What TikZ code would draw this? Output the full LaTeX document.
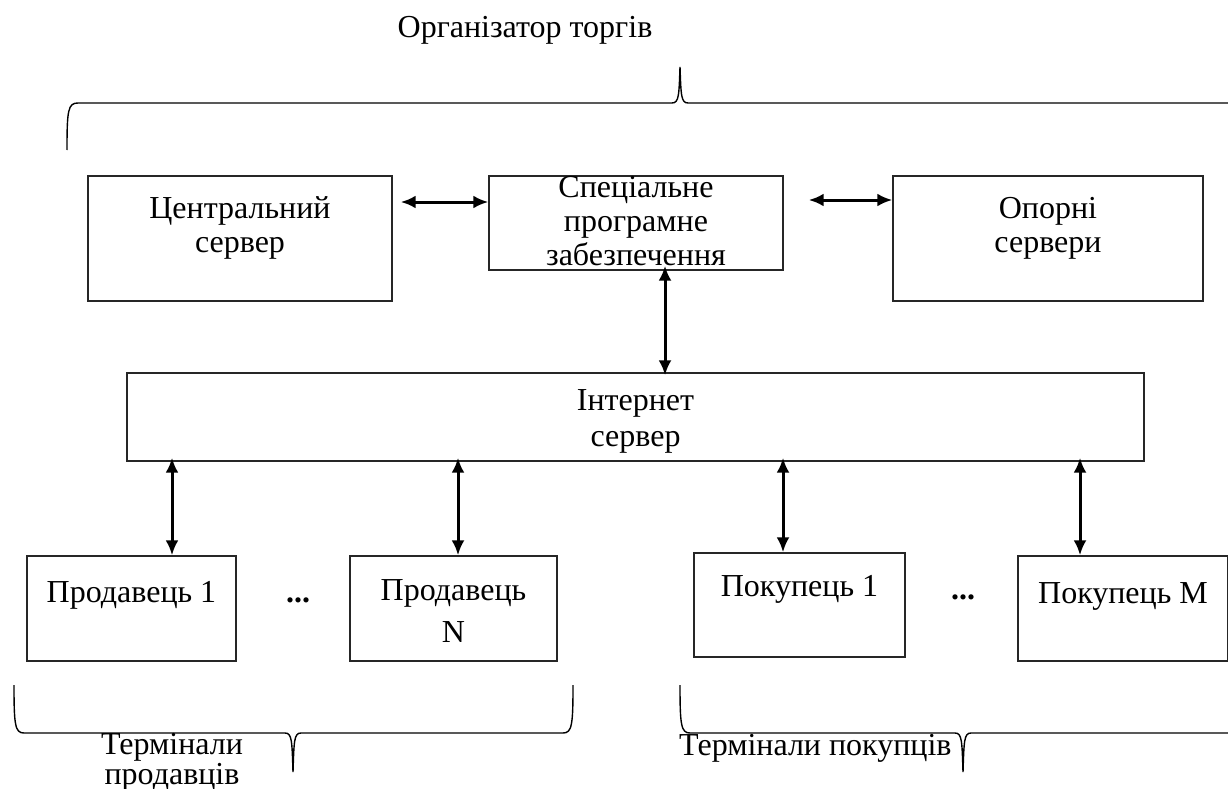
\documentclass[tikz,border=0pt]{standalone}
\usepackage{fontspec}
\setmainfont{Liberation Serif}
\usetikzlibrary{arrows.meta}
\begin{document}
\begin{tikzpicture}[x=1pt,y=-1pt,
  box/.style={draw=black!85,line width=1.4pt,rectangle,inner sep=0pt},
  lbl/.style={font=\fontsize{32}{34}\selectfont,align=center,inner sep=0pt},
  link/.style={line width=3pt,{Latex[length=15pt,width=13pt]}-{Latex[length=15pt,width=13pt]}},
  brace/.style={line width=1.4pt,black}]
\useasboundingbox (0,0) rectangle (1228,789);

% title and top brace
\node[lbl] (org) at (525,30) {Організатор торгів};
\draw[brace] (67,150) .. controls (67,110) and (68,103) .. (78,103) -- (672,103)
  .. controls (679,103) and (679,95) .. (680,67)
  .. controls (681,95) and (681,103) .. (688,103) -- (1230,103);

% upper row of boxes
\node[box,minimum width=304pt,minimum height=125pt] (central) at (240,238.5) {};
\node[lbl] (centralt) at (240,228) {Центральний\\сервер};
\node[box,minimum width=294pt,minimum height=94pt] (spec) at (636,223) {};
\node[lbl] (spect) at (636,221) {Спеціальне\\програмне\\забезпечення};
\node[box,minimum width=310pt,minimum height=125pt] (opor) at (1048,238.5) {};
\node[lbl] (oport) at (1048,228) {Опорні\\сервери};

\draw[link] ([xshift=8pt]central.east|-0,202) -- (spec.west|-0,202);
\draw[link] ([xshift=25pt]spec.east|-0,200) -- (opor.west|-0,200);

% internet server
\node[box,minimum width=1017pt,minimum height=88pt] (inet) at (635.5,417) {};
\node[lbl] (inett) at (635.5,421) {Інтернет\\[2pt]сервер};
\draw[link] ([yshift=5pt]spec.south-|665,0) -- ([yshift=-3pt]inet.north-|665,0);

% terminals
\node[box,minimum width=209pt,minimum height=105pt] (s1) at (131.5,608.5) {};
\node[lbl] (s1t) at (131.5,595) {Продавець 1};
\node[lbl,font=\fontsize{32}{34}\selectfont\bfseries] (dots1) at (298,600) {...};
\node[box,minimum width=207pt,minimum height=105pt] (sn) at (453.5,608.5) {};
\node[lbl] (snt) at (453.5,611) {Продавець\\[8pt]N};
\node[box,minimum width=211pt,minimum height=104pt] (b1) at (799.5,605) {};
\node[lbl] (b1t) at (799.5,589) {Покупець 1};
\node[lbl,font=\fontsize{32}{34}\selectfont\bfseries] (dots2) at (963,597) {...};
\node[box,minimum width=210pt,minimum height=105pt] (bm) at (1123,608.5) {};
\node[lbl] (bmt) at (1123,596) {Покупець М};

\draw[link] ([yshift=4pt]inet.south-|172,0) -- (s1.north-|172,0);
\draw[link] ([yshift=4pt]inet.south-|458,0) -- (sn.north-|458,0);
\draw[link] ([yshift=4pt]inet.south-|783,0) -- (b1.north-|783,0);
\draw[link] ([yshift=4pt]inet.south-|1080,0) -- (bm.north-|1080,0);

% bottom braces
\draw[brace] (14,685) .. controls (14,725) and (15,733) .. (24,733) -- (285,733)
  .. controls (292,733) and (292,741) .. (293,772)
  .. controls (294,741) and (294,733) .. (301,733) -- (563,733)
  .. controls (572,733) and (573,725) .. (573,685);
\node[lbl,font=\fontsize{32}{30}\selectfont] (sellers) at (172,762) {Термінали\\продавців};

\draw[brace] (680,685) .. controls (680,725) and (681,733) .. (690,733) -- (955,733)
  .. controls (962,733) and (962,741) .. (963,772)
  .. controls (964,741) and (964,733) .. (971,733) -- (1230,733);
\node[lbl,anchor=west] (buyers) at (679,748) {Термінали покупців};
\end{tikzpicture}
\end{document}
